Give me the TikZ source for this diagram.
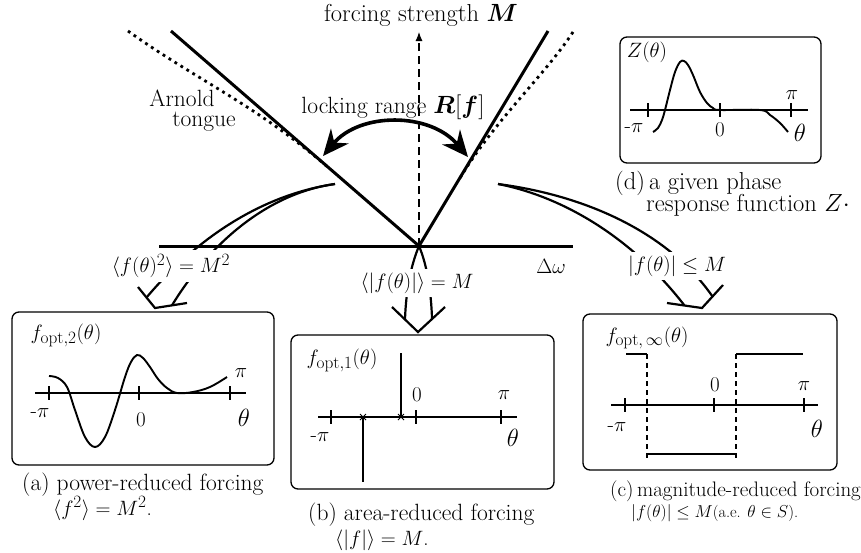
\documentclass[tikz,border=0pt]{standalone}
\usepackage{amsmath,amssymb,bm}
\usetikzlibrary{arrows.meta,calc}
\DeclareMathSizes{21}{21}{16}{12}

\begin{document}
\begin{tikzpicture}[x=1pt,y=-1pt,
  txt/.style={font=\fontsize{23.5}{27}\selectfont,inner sep=0pt},
  mathTxt/.style={font=\fontsize{21}{25}\selectfont,inner sep=0pt},
  bigTxt/.style={font=\fontsize{24.5}{28}\selectfont,inner sep=0pt},
  thetaTxt/.style={font=\fontsize{26}{30}\selectfont,inner sep=0pt},
  smallTxt/.style={font=\fontsize{16.3}{19}\selectfont,inner sep=0pt},
  arrowTxt/.style={mathTxt,fill=white,inner xsep=2pt,inner ysep=4pt},
  heavyLine/.style={line width=3pt},
  tongueDots/.style={line width=2.8pt,dash pattern=on 2.8pt off 4.2pt},
  fatArrow/.style={line width=2.2pt,miter limit=20},
  panelBox/.style={line width=1.3pt,rounded corners=7pt},
  panelAxis/.style={line width=1.8pt},
  panelCurve/.style={line width=1.9pt},
  thinCurve/.style={line width=1.2pt},
]
\useasboundingbox (0,0) rectangle (861,552);

\coordinate (vtx) at (419,246);
\coordinate (axL) at (159,246);
\coordinate (axR) at (573,246);
\coordinate (lTop) at (171,31);
\coordinate (rTop) at (548,31);
\coordinate (fsTop) at (419,32);
\draw[tongueDots] (128,31) .. controls (198,81) and (255,104) .. (330,169);
\draw[tongueDots] (573,32) .. controls (545,75) and (495,120) .. (460,178);
\draw[heavyLine] (axL) -- (axR);
\draw[heavyLine] (lTop) -- (vtx) -- (rTop);
\draw[line width=1.1pt,dash pattern=on 8pt off 5pt,-{Latex[length=9pt,width=7pt]}] (vtx) -- (fsTop);
\node[bigTxt] (fsLab) at (421,15) {forcing strength $\boldsymbol{M}$};

\coordinate (lockL) at (323,156);
\coordinate (lockR) at (468,157);
\draw[line width=3.6pt,{Stealth[length=26pt,width=23pt]}-{Stealth[length=26pt,width=23pt]}] (lockL) .. controls (360,112) and (430,112) .. (lockR);
\node[txt] (lockLab) at (393,107) {locking range $\boldsymbol{R}[\boldsymbol{f}]$};
\node[txt,anchor=base] (arnoldLab) at (182,106) {Arnold};
\node[txt,anchor=base] (tongueLab) at (204,126) {tongue};
\node[mathTxt] (dwLab) at (551,266) {$\Delta\omega$};

% fat arrows to the three panels
\coordinate (srcA) at (335,184);
\coordinate (tipA) at (155,308);
\coordinate (armA1) at (138,287);
\coordinate (armA2) at (187,303);
\draw[fatArrow] (srcA) .. controls (260,195) and (195,240) .. ($(tipA)!0.5!(armA1)$);
\draw[fatArrow] (srcA) .. controls (275,192) and (215,235) .. ($(tipA)!0.53!(armA2)$);
\draw[fatArrow] (armA1) -- (tipA) -- (armA2);

\coordinate (tipB) at (418,332);
\coordinate (armB1) at (392,307);
\coordinate (armB2) at (445,307);
\draw[fatArrow] (vtx) .. controls (411,265) and (406,290) .. ($(tipB)!0.5!(armB1)$);
\draw[fatArrow] (vtx) .. controls (427,265) and (431,290) .. ($(tipB)!0.52!(armB2)$);
\draw[fatArrow] (armB1) -- (tipB) -- (armB2);

\coordinate (srcC) at (498,184);
\coordinate (tipC) at (702,308);
\coordinate (armC1) at (667,303);
\coordinate (armC2) at (723,285);
\draw[fatArrow] (srcC) .. controls (560,196) and (630,235) .. ($(tipC)!0.5!(armC1)$);
\draw[fatArrow] (srcC) .. controls (590,196) and (670,235) .. ($(tipC)!0.5!(armC2)$);
\draw[fatArrow] (armC1) -- (tipC) -- (armC2);

\node[arrowTxt] (powLab) at (171,266) {$\langle f(\theta)^2\rangle = M^2$};
\node[arrowTxt] (areaLab) at (417,283) {$\langle |f(\theta)|\rangle = M$};
\node[arrowTxt] (magLab) at (677,266) {$|f(\theta)| \le M$};

% (d) phase response
\draw[panelBox] (620,37) rectangle (821,163);
\draw[panelAxis] (630,110) -- (808,110);
\foreach \x in {648,720,791} \draw[panelAxis] (\x,103) -- (\x,117);
\draw[panelCurve] plot[smooth,tension=0.6] coordinates {(653,132) (658,128) (662,120) (665,110) (670,90) (675,72) (680,62) (684,61) (688,65) (693,75) (700,92) (707,103) (713,108) (720,110) (760,110) (770,115) (780,123) (788,132)};
\node[mathTxt] (zTitle) at (647,52) {$Z(\theta)$};
\node[mathTxt] (zPi) at (792,95) {$\pi$};
\node[mathTxt] (zMinusPi) at (634,128) {-$\pi$};
\node[mathTxt] (zZero) at (720,130) {0};
\node[thetaTxt] (zTheta) at (800,133) {$\theta$};
\node[bigTxt,anchor=base west] (capD1) at (615,189) {(d)\,a given phase};
\node[bigTxt,anchor=base west] (capD2) at (646,211) {response function $Z\cdot$};

% (a) power-reduced
\draw[panelBox] (12,312) rectangle (274,465);
\draw[panelAxis] (35,393) -- (246,393);
\foreach \x in {49,139,230} \draw[panelAxis] (\x,386) -- (\x,400);
\draw[panelCurve] plot[smooth,tension=0.6] coordinates {(49,376) (58,378) (67,387) (75,410) (85,437) (95,447) (105,437) (115,410) (125,377) (131,362) (137,355) (143,358) (150,367) (158,379) (167,388) (177,393) (193,392) (210,387) (227,377)};
\node[mathTxt] (aTitle) at (66,335) {$f_{\mathrm{opt},2}(\theta)$};
\node[mathTxt] (aPi) at (241,373) {$\pi$};
\node[mathTxt] (aMinusPi) at (40,413) {-$\pi$};
\node[mathTxt] (aZero) at (141,420) {0};
\node[thetaTxt] (aTheta) at (244,418) {$\theta$};
\node[txt,anchor=base west] (capA1) at (22,490) {(a) power-reduced forcing};
\node[mathTxt,anchor=base west] (capA2) at (53,515) {$\langle f^2\rangle = M^2$.};

% (b) area-reduced
\draw[panelBox] (291,335) rectangle (554,489);
\draw[panelAxis] (318,417) -- (517,417);
\foreach \x in {331,416,501} \draw[panelAxis] (\x,410) -- (\x,424);
\draw[thinCurve] (401,353) -- (401,417);
\draw[thinCurve] (363,417) -- (363,482);
\foreach \x in {363,401} \draw[line width=0.9pt] (\x-3,414) -- (\x+3,420) (\x-3,420) -- (\x+3,414);
\node[mathTxt] (bTitle) at (342,360) {$f_{\mathrm{opt},1}(\theta)$};
\node[mathTxt] (bZero) at (417,395) {0};
\node[mathTxt] (bPi) at (504,395) {$\pi$};
\node[mathTxt] (bMinusPi) at (320,437) {-$\pi$};
\node[thetaTxt] (bTheta) at (513,438) {$\theta$};
\node[txt,anchor=base west] (capB1) at (308,520) {(b) area-reduced forcing};
\node[mathTxt,anchor=base west] (capB2) at (335,545) {$\langle |f|\rangle = M$.};

% (c) magnitude-reduced
\draw[panelBox] (583,314) rectangle (837,470);
\draw[panelAxis] (611,405) -- (818,405);
\foreach \x in {625,714,804} \draw[panelAxis] (\x,398) -- (\x,412);
\draw[panelCurve] (626,354) -- (647,354);
\draw[panelCurve] (647,454) -- (736,454);
\draw[panelCurve] (736,354) -- (803,354);
\foreach \x in {647,736} \draw[thinCurve,dash pattern=on 5pt off 4pt] (\x,354) -- (\x,460);
\node[mathTxt] (cTitle) at (647,338) {$f_{\mathrm{opt},\,\infty}(\theta)$};
\node[mathTxt] (cZero) at (715,385) {0};
\node[mathTxt] (cPi) at (804,386) {$\pi$};
\node[mathTxt] (cMinusPi) at (617,427) {-$\pi$};
\node[thetaTxt] (cTheta) at (817,429) {$\theta$};
\node[mathTxt,anchor=base west] (capC1) at (610,496) {(c)\,magnitude-reduced forcing};
\node[smallTxt,anchor=base west] (capC2) at (631,517) {$|f(\theta)| \le M$(a.e. $\theta\in S$).};
\end{tikzpicture}
\end{document}
